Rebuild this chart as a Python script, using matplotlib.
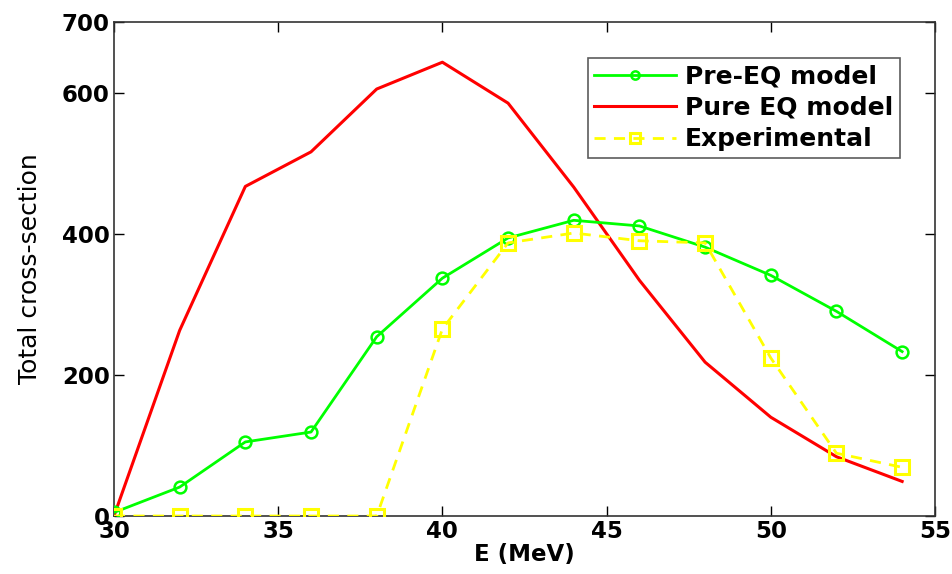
import matplotlib
matplotlib.use("Agg")
import matplotlib.pyplot as plt

energy = [30, 32, 34, 36, 38, 40, 42, 44, 46, 48, 50, 52, 54]
pre_eq = [5, 41, 105, 119, 254, 337, 394, 419, 411, 381, 341, 290, 233]
pure_eq = [0, 263, 467, 516, 605, 643, 585, 466, 334, 218, 140, 84, 49]
experimental = [0, 0, 0, 0, 0, 265, 387, 401, 390, 387, 224, 89, 69]

xticks = [30, 35, 40, 45, 50, 55]
yticks = [0, 200, 400, 600, 700]

plt.rcParams['font.family'] = ['DejaVu Sans']

fig = plt.figure(figsize=(9.53, 5.74), dpi=100)
ax = fig.add_axes([0.1196, 0.101, 0.8615, 0.8607])

ax.plot(energy, pre_eq, color='#00ff00', lw=2.0, marker='o', ms=8.5,
        mfc='none', mec='#00ff00', mew=1.8, label='Pre-EQ model', zorder=3)
ax.plot(energy, pure_eq, color='#ff0000', lw=2.2, label='Pure EQ model', zorder=2)
ax.plot(energy, experimental, color='#ffff00', lw=2.0, ls=(0, (4, 3)), marker='s', ms=10,
        mfc='none', mec='#ffff00', mew=2.2, label='Experimental', zorder=4)

ax.set_xlim(30, 55)
ax.set_ylim(0, 700)
ax.set_xticks(xticks)
ax.set_yticks(yticks)
ax.tick_params(direction='in', length=7, width=1, top=True, right=True,
               labelsize=16.5, pad=3)
for lab in ax.get_xticklabels() + ax.get_yticklabels():
    lab.set_fontweight('bold')
for s in ax.spines.values():
    s.set_linewidth(1.2)
    s.set_color('#333333')

ax.set_xlabel('E (MeV)', fontsize=16.5, fontweight='bold', labelpad=0)
ax.set_ylabel('Total cross-section', fontsize=18, labelpad=14)

leg = ax.legend(loc='upper right', bbox_to_anchor=(0.957, 0.927),
                prop={'weight': 'bold', 'size': 18}, frameon=True, fancybox=False,
                edgecolor='#333333', handlelength=3.3, borderpad=0.25,
                labelspacing=0.3, handletextpad=0.35, borderaxespad=0,
                markerscale=0.7)
leg.get_frame().set_linewidth(1.2)

fig.savefig('out.png', dpi=100)
